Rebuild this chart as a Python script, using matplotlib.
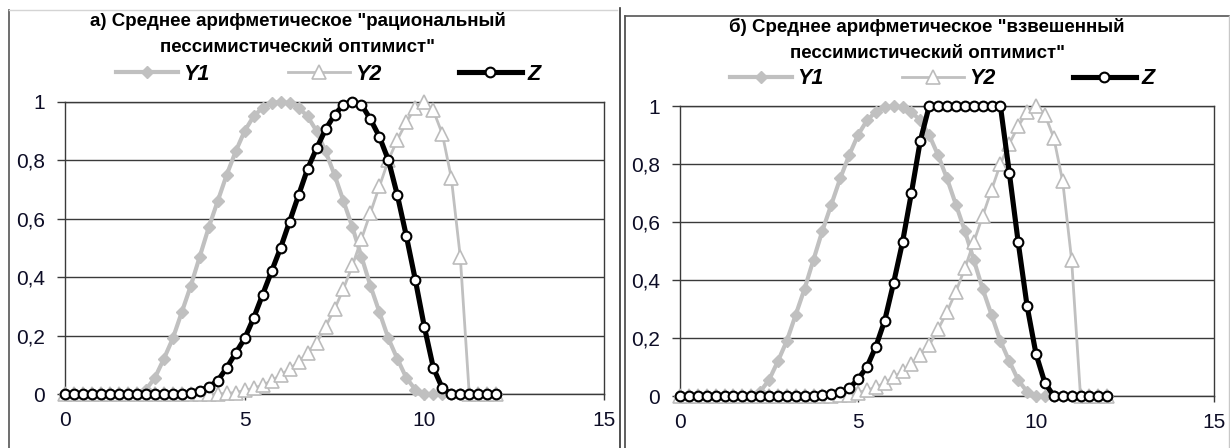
import matplotlib
matplotlib.use('Agg')
import matplotlib.pyplot as plt
from matplotlib.lines import Line2D

plt.rcParams['font.family'] = ['Liberation Sans', 'DejaVu Sans']

# x grid (step 0.25, 0..12)
X = [0, 0.25, 0.5, 0.75, 1, 1.25, 1.5, 1.75, 2, 2.25, 2.5, 2.75, 3, 3.25, 3.5, 3.75,
     4, 4.25, 4.5, 4.75, 5, 5.25, 5.5, 5.75, 6, 6.25, 6.5, 6.75, 7, 7.25, 7.5, 7.75,
     8, 8.25, 8.5, 8.75, 9, 9.25, 9.5, 9.75, 10, 10.25, 10.5, 10.75, 11, 11.25, 11.5,
     11.75, 12]

Y1 = [0, 0, 0, 0, 0, 0, 0, 0, 0,
      0.015, 0.055, 0.12, 0.19, 0.28, 0.37, 0.47, 0.57, 0.66, 0.75, 0.83, 0.9, 0.95,
      0.98, 0.995, 1, 0.995, 0.98, 0.95, 0.9, 0.83, 0.75, 0.66, 0.57, 0.47, 0.37,
      0.28, 0.19, 0.12, 0.055, 0.015,
      0, 0, 0, 0, 0, 0, 0, 0, 0]

Y2 = [0, 0, 0, 0, 0, 0, 0, 0, 0, 0, 0, 0, 0, 0, 0, 0, 0, 0,
      0.002, 0.005, 0.012, 0.02, 0.03, 0.045, 0.065, 0.085, 0.11, 0.14, 0.175, 0.23,
      0.29, 0.36, 0.44, 0.53, 0.62, 0.71, 0.8, 0.87, 0.93, 0.98, 1.0, 0.97, 0.89,
      0.74, 0.47,
      0, 0, 0, 0]

# а) "рациональный пессимистический оптимист"
Z_A = [0, 0, 0, 0, 0, 0, 0, 0, 0, 0, 0, 0, 0, 0,
       0.003, 0.01, 0.025, 0.045, 0.09, 0.14, 0.19, 0.26, 0.34, 0.42, 0.5, 0.59, 0.68,
       0.77, 0.84, 0.905, 0.955, 0.99, 1.0, 0.99, 0.94, 0.88, 0.8, 0.68, 0.54, 0.39,
       0.23, 0.09, 0.02,
       0, 0, 0, 0, 0, 0]

# б) "взвешенный пессимистический оптимист"
Z_B = [0, 0, 0, 0, 0, 0, 0, 0, 0, 0, 0, 0, 0, 0, 0, 0,
       0.002, 0.006, 0.013, 0.026, 0.058, 0.1, 0.17, 0.26, 0.39, 0.53, 0.7, 0.88,
       1, 1, 1, 1, 1, 1, 1, 1, 1,
       0.77, 0.53, 0.31, 0.145, 0.045,
       0, 0, 0, 0, 0, 0, 0]

Y_TICKS = [0, 0.2, 0.4, 0.6, 0.8, 1]
Y_LABELS = ['0', '0,2', '0,4', '0,6', '0,8', '1']
X_TICKS = [0, 5, 10, 15]

TITLE_A = ['а) Среднее арифметическое "рациональный', 'пессимистический оптимист"']
TITLE_B = ['б) Среднее арифметическое "взвешенный', 'пессимистический оптимист"']

W, H = 1230, 448
GRAY = '#c0c0c0'
GRID = '#3a3a3a'
LABEL = '#0d0d26'


def fx(px):
    return px / W


def fy(py):
    return 1 - py / H


def panel(ax, z, title, title_x, title_y, leg_x, leg_y):
    l1, = ax.plot(X, Y1, color=GRAY, lw=3.0, marker='D', ms=6.5, mfc=GRAY, mec=GRAY,
                  clip_on=False, zorder=3, label='Y1')
    l2, = ax.plot(X, Y2, color=GRAY, lw=2.0, marker='^', ms=9.5, mfc='white', mec='#bcbcbc',
                  mew=1.2, clip_on=False, zorder=4, label='Y2')
    l3, = ax.plot(X, z, color='black', lw=3.7, marker='o', ms=7, mfc='white', mec='black',
                  mew=1.5, clip_on=False, zorder=5, label='Z')
    ax.set_xlim(0, 15)
    ax.set_ylim(0, 1)
    ax.set_xticks(X_TICKS)
    ax.set_xticklabels([str(t) for t in X_TICKS])
    ax.set_yticks(Y_TICKS)
    ax.set_yticklabels(Y_LABELS)
    ax.grid(axis='y', color=GRID, lw=1.0)
    ax.set_axisbelow(True)
    for s in ax.spines.values():
        s.set_color(GRID)
        s.set_linewidth(1.0)
    ax.tick_params(axis='y', direction='out', length=5.5, width=1, color=GRID,
                   labelsize=15, labelcolor=LABEL, pad=9)
    ax.tick_params(axis='x', direction='out', length=4, width=1, color=GRID,
                   labelsize=15, labelcolor=LABEL, pad=8)

    fig = ax.figure
    fig.text(fx(title_x), fy(title_y), title[0], ha='center', va='center',
             fontsize=13.5, fontweight='bold')
    fig.text(fx(title_x), fy(title_y + 26), title[1], ha='center', va='center',
             fontsize=13.5, fontweight='bold')
    ax.legend(handles=[l1, l2, l3], loc='center', bbox_to_anchor=(fx(leg_x), fy(leg_y)),
              bbox_transform=fig.transFigure, ncol=3, frameon=False,
              prop={'size': 15.5, 'weight': 'bold', 'style': 'italic'},
              handlelength=2.9, handletextpad=0.25, columnspacing=3.6,
              borderpad=0, borderaxespad=0, numpoints=1)


fig = plt.figure(figsize=(W / 100, H / 100), dpi=100, facecolor='white')

ax1 = fig.add_axes([fx(65), fy(394), fx(604 - 65), (394 - 101.7) / H])
ax2 = fig.add_axes([fx(680), fy(396), fx(1214 - 680), (396 - 106) / H])

panel(ax1, Z_A, TITLE_A, 298, 21, 328, 74)
panel(ax2, Z_B, TITLE_B, 927, 27, 942, 79)

# frames of the two pasted charts
frame = [
    ((9, 9), (10, 448), '#555555', 1.2),
    ((9, 617), (10, 10), '#d4d4d4', 1.0),
    ((619.5, 619.5), (8, 448), '#333333', 1.2),
    ((624.5, 624.5), (16.5, 448), '#444444', 1.2),
    ((624.5, 1229), (16.5, 16.5), '#555555', 1.2),
    ((1229, 1229), (16.5, 448), '#c8c8c8', 1.0),
]
for xs, ys, c, lw in frame:
    fig.add_artist(Line2D([fx(v) for v in xs], [fy(v) for v in ys], color=c, lw=lw,
                          transform=fig.transFigure))

fig.savefig('out.png', dpi=100, facecolor='white')
